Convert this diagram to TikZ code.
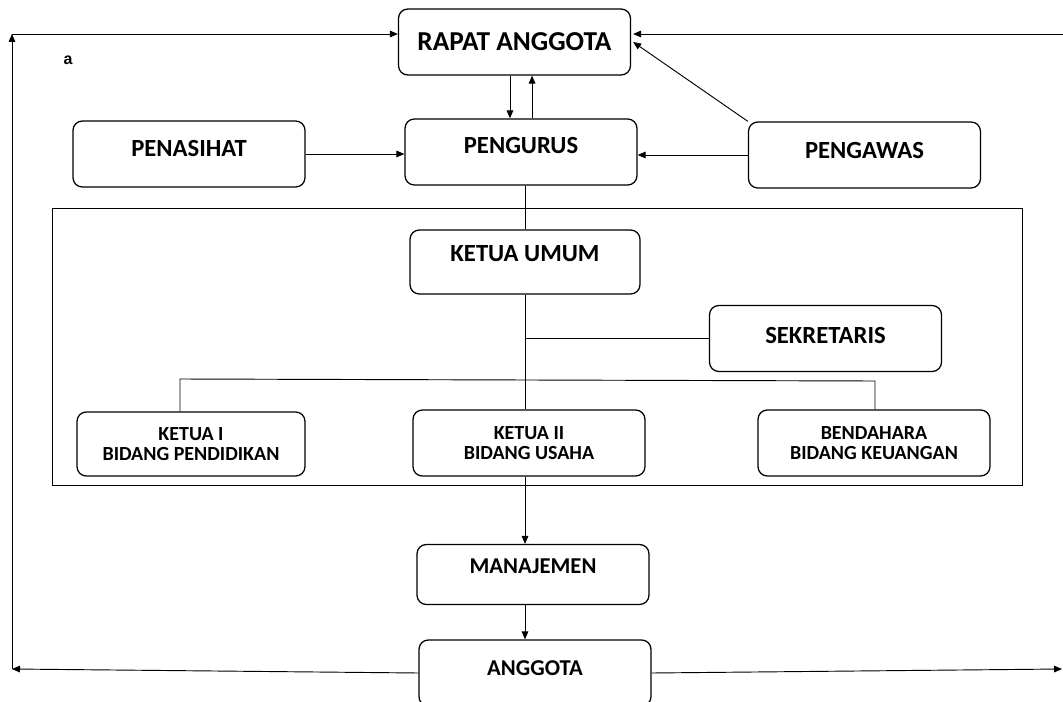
\documentclass[tikz,border=0pt]{standalone}
\usepackage{fontspec}
\setmainfont{Carlito}
\newfontfamily\notefont{Liberation Sans}
\usetikzlibrary{arrows.meta,positioning}

\begin{document}
\begin{tikzpicture}[x=0.75pt,y=-0.75pt,>={Triangle[length=6pt,width=5pt]},line width=0.7pt,
orgbox/.style={draw,rounded corners=7pt,align=center,minimum width=174pt,minimum height=49.5pt,inner sep=2pt,line width=0.95pt},
bigfont/.style={font=\fontsize{20.5}{24}\selectfont\bfseries},
midfont/.style={font=\fontsize{18.5}{22}\selectfont\bfseries},
smallfont/.style={font=\fontsize{15}{14.5}\selectfont\bfseries},
lift/.style={text depth=#1}]
\useasboundingbox (0,0) rectangle (1063,702);

% frame round the board
\draw (52,208) rectangle (1022,485);

\node[orgbox,bigfont] (rapat) at (514.5,42) {RAPAT ANGGOTA};
\node[orgbox,midfont,lift=10.5pt] (pengurus) at (521,152) {PENGURUS};
\node[orgbox,midfont,lift=9pt] (penasihat) at (189,154) {PENASIHAT};
\node[orgbox,midfont,lift=7.5pt] (pengawas) at (864.5,155) {PENGAWAS};
\node[orgbox,midfont,lift=12pt,minimum width=172.5pt,minimum height=48pt] (ketua) at (525,262) {KETUA UMUM};
\node[orgbox,midfont,lift=4.5pt] (sekretaris) at (825.5,338.5) {SEKRETARIS};
\node[orgbox,smallfont,minimum width=171pt,minimum height=48pt] (ketua1) at (191,444) {KETUA I\\BIDANG PENDIDIKAN};
\node[orgbox,smallfont] (ketua2) at (529,443) {KETUA II\\BIDANG USAHA};
\node[orgbox,smallfont] (bendahara) at (874,443) {BENDAHARA\\BIDANG KEUANGAN};
\node[orgbox,font=\fontsize{17}{20}\selectfont\bfseries,lift=12.8pt,minimum height=45pt] (manajemen) at (533,574.5) {MANAJEMEN};
\node[orgbox,font=\fontsize{17}{20}\selectfont\bfseries,lift=7.5pt] (anggota) at (535,673) {ANGGOTA};
\node[font=\notefont\bfseries\fontsize{12}{14}\selectfont] (note) at (68,60) {a};

% loop ends
\coordinate (topleft) at (12,34);
\coordinate (botleft) at (12,669);
\coordinate (topright) at (1063,34);
\coordinate (botright) at (1062,669);
\coordinate (busL) at (180,379);
\coordinate (busR) at (875,381);

\draw[->] ([xshift=-3.4pt]rapat.south) -- ([xshift=-3.4pt]rapat.south |- pengurus.north);
\draw[->] ([xshift=8.3pt]pengurus.north) -- ([xshift=8.3pt]pengurus.north |- rapat.south);
\draw[->] (penasihat.east) -- (penasihat.east -| pengurus.west);
\draw[->] (pengawas.west) -- (pengawas.west -| pengurus.east);
\draw[->] (pengawas.north west) -- ([xshift=1.5pt]rapat.east);
\draw[->] (topright) -- ([yshift=6pt,xshift=1.5pt]rapat.east);
\draw[->] (anggota.west) -- (botleft);
\draw[->] (botleft) -- (topleft);
\draw[->] (topleft) -- ([yshift=6pt]rapat.west);
\draw[->] (anggota.east) -- (botright);

\draw (ketua.north |- pengurus.south) -- (ketua.north);
\draw (ketua.south) -- (ketua.south |- ketua2.north);
\draw (ketua.south |- sekretaris.west) -- (sekretaris.west);
\draw (busL |- ketua1.north) -- (busL) -- (busR) -- (busR |- bendahara.north);
\draw[->] (ketua.south |- ketua2.south) -- (ketua.south |- manajemen.north);
\draw[->] (ketua.south |- manajemen.south) -- (ketua.south |- anggota.north);
\end{tikzpicture}
\end{document}
